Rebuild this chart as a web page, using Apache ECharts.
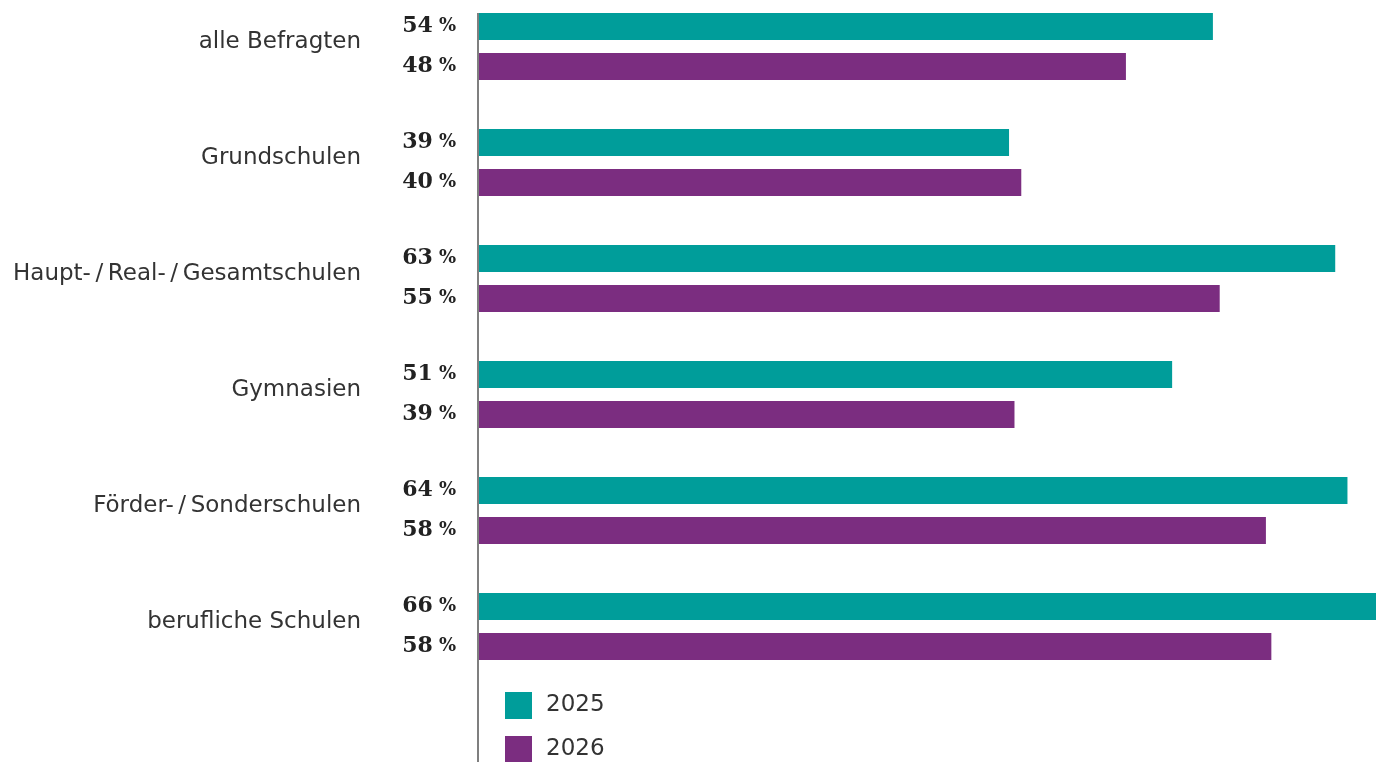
<!DOCTYPE html>
<html>
<head>
<meta charset="utf-8">
<script src="https://cdn.jsdelivr.net/npm/echarts@6/dist/echarts.min.js"></script>
<style>
  html, body { margin: 0; padding: 0; background: #fff; }
  #chart { width: 1389px; height: 762px; }
</style>
</head>
<body>
<div id="chart"></div>
<script>
// Schulformen (von oben nach unten)
const categories = ['alle Befragten', 'Grundschulen', 'Haupt-\u2009/\u2009Real-\u2009/\u2009Gesamtschulen', 'Gymnasien', 'Förder-\u2009/\u2009Sonderschulen', 'berufliche Schulen']
const years = ['2025', '2026']
// Anteile in %
const values2025 = [54, 39, 63, 51, 63.9, 66]
const values2026 = [47.6, 39.9, 54.5, 39.4, 57.9, 58.3]
const colors = ['#009d9a', '#7b2d80']

const sansFont = '"DejaVu Sans", "Open Sans", sans-serif'

const pctLabel = {
  show: true,
  position: 'left',
  distance: 23,
  formatter: p => '{n|' + Math.round(p.value) + '}{p|%}',
  rich: {
    n: { fontFamily: '"DejaVu Serif", serif', fontWeight: 'bold', fontSize: 22, color: '#222' },
    p: { fontFamily: '"DejaVu Serif", serif', fontWeight: 'bold', fontSize: 18, color: '#222', padding: [0, 0, 0, 6] }
  }
}

const chart = echarts.init(document.getElementById('chart'))

const option = {
  animation: false,
  color: colors,
  grid: { left: 479, right: 13, top: -11.5, bottom: 77.5, outerBoundsMode: 'none', containLabel: false },
  xAxis: {
    type: 'value',
    min: 0,
    max: 66,
    show: false
  },
  yAxis: {
    type: 'category',
    inverse: true,
    data: categories,
    axisLine: { show: false },
    axisTick: { show: false },
    axisLabel: {
      margin: 118,
      fontFamily: sansFont,
      fontSize: 23,
      color: '#333',
      verticalAlign: 'bottom',
      lineHeight: 9
    }
  },
  legend: {
    data: years,
    orient: 'vertical',
    left: 505,
    top: 692,
    height: 90,
    padding: 0,
    itemWidth: 27,
    itemHeight: 27,
    itemGap: 17,
    icon: 'rect',
    textStyle: { fontFamily: sansFont, fontSize: 23, color: '#333', padding: [0, 0, 0, 9] }
  },
  series: [
    { name: years[0], type: 'bar', data: values2025, barWidth: 27, barGap: '48%', label: pctLabel },
    { name: years[1], type: 'bar', data: values2026, barWidth: 27, barGap: '48%', label: pctLabel }
  ]
}

chart.setOption(option)

// senkrechte Achslinie, läuft bis unter die Legende
const x0 = chart.convertToPixel({ gridIndex: 0 }, [0, 0])[0]
chart.setOption({
  graphic: [{
    type: 'line',
    shape: { x1: x0 - 1, y1: 13, x2: x0 - 1, y2: 762 },
    style: { stroke: '#555', lineWidth: 1.5 }
  }]
})
</script>
</body>
</html>
